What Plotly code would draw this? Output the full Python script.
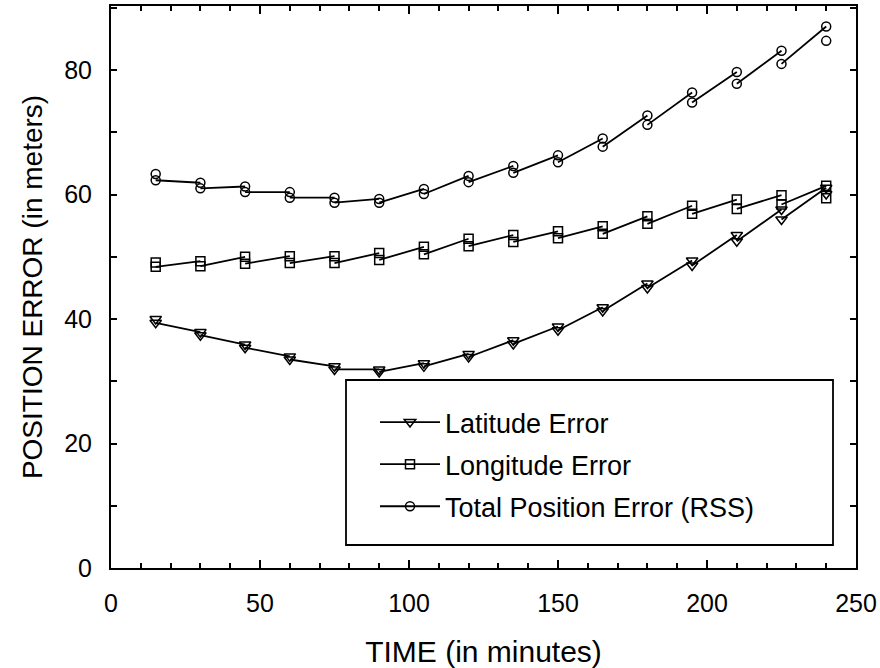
import plotly.graph_objects as go

# Time in minutes
time_min = [15, 30, 45, 60, 75, 90, 105, 120, 135, 150, 165, 180, 195, 210, 225, 240]

# Each point is drawn with two markers (segment end = upper, segment start = lower)
lat_upper = [40.0, 37.9, 35.9, 34.0, 32.4, 31.9, 32.9, 34.4, 36.6, 38.8, 41.9, 45.7, 49.4, 53.5, 57.6, 61.1]
lat_lower = [39.4, 37.4, 35.4, 33.5, 31.9, 31.5, 32.4, 33.9, 36.0, 38.2, 41.3, 45.0, 48.6, 52.5, 56.0, 60.1]

lon_upper = [49.1, 49.3, 50.0, 50.1, 50.1, 50.6, 51.6, 52.9, 53.5, 54.1, 54.9, 56.5, 58.2, 59.2, 59.9, 61.4]
lon_lower = [48.4, 48.5, 48.9, 49.0, 49.0, 49.5, 50.4, 51.7, 52.4, 53.0, 53.7, 55.3, 56.9, 57.7, 58.4, 59.4]

tot_upper = [63.3, 61.9, 61.3, 60.4, 59.5, 59.3, 60.9, 63.0, 64.6, 66.3, 69.0, 72.7, 76.4, 79.7, 83.1, 87.0]
tot_lower = [62.3, 61.0, 60.4, 59.5, 58.7, 58.7, 60.1, 62.0, 63.5, 65.2, 67.7, 71.2, 74.8, 77.8, 81.0, 84.7]

series_names = ["Latitude Error", "Longitude Error", "Total Position Error (RSS)"]
x_ticks = [0, 50, 100, 150, 200, 250]
y_ticks = [0, 20, 40, 60, 80]

FONT = "Liberation Sans, Arial, Helvetica, sans-serif"

fig = go.Figure()

def add_series(name, upper, lower, symbol, size):
    xs, ys = [], []
    for i in range(len(time_min) - 1):
        xs += [time_min[i], time_min[i + 1], None]
        ys += [lower[i], upper[i + 1], None]
    mk = dict(symbol=symbol, size=size, color="black", line=dict(color="black", width=1.5))
    fig.add_trace(go.Scatter(
        x=xs, y=ys, mode="lines+markers", name=name, legendgroup=name,
        line=dict(color="black", width=1.8), marker=mk, connectgaps=False,
    ))
    fig.add_trace(go.Scatter(
        x=[time_min[0], time_min[-1]], y=[upper[0], lower[-1]],
        mode="markers", showlegend=False, legendgroup=name, marker=mk,
    ))

add_series(series_names[0], lat_upper, lat_lower, "triangle-down-open", 10)
add_series(series_names[1], lon_upper, lon_lower, "square-open", 9)
add_series(series_names[2], tot_upper, tot_lower, "circle-open", 9)

axis_common = dict(
    showline=True, linecolor="black", linewidth=2, mirror="ticks",
    ticks="inside", tickcolor="black", tickwidth=1.5,
    showgrid=False, zeroline=False, automargin=False,
    tickfont=dict(family=FONT, size=25, color="black"),
)

fig.update_xaxes(
    **axis_common, range=[0, 250], tickvals=x_ticks, ticklen=8,
    minor=dict(dtick=10, ticks="inside", ticklen=5, tickcolor="black", tickwidth=1.5),
    title=dict(text="TIME (in minutes)", font=dict(family=FONT, size=30, color="black"), standoff=30),
    ticklabelstandoff=12,
)
fig.update_yaxes(
    **axis_common, range=[0, 90.3], tickvals=y_ticks, ticklen=6,
    minor=dict(dtick=10, ticks="inside", ticklen=6, tickcolor="black", tickwidth=1.5),
    title=dict(text="POSITION ERROR (in meters)", font=dict(family=FONT, size=28, color="black"), standoff=13),
    ticklabelstandoff=12,
)

# legend frame
fig.add_shape(type="rect", xref="paper", yref="paper",
              x0=(346 - 111) / 745, x1=(833 - 111) / 745,
              y0=(568 - 545) / 562, y1=(568 - 380) / 562,
              line=dict(color="black", width=1.8), fillcolor="white", layer="below")

fig.update_layout(
    width=880, height=668,
    margin=dict(l=111, r=24, t=6, b=100),
    paper_bgcolor="white", plot_bgcolor="white",
    font=dict(family=FONT, color="black"),
    legend=dict(x=(375 - 111) / 745, y=(568 - 398) / 562, xanchor="left", yanchor="top",
                bgcolor="rgba(0,0,0,0)", borderwidth=0,
                font=dict(family=FONT, size=27, color="black"),
                itemwidth=60, tracegroupgap=4),
    showlegend=True,
)

fig.write_html("out.html", config={"displayModeBar": False},
               post_script="document.body.style.margin='0px';")
